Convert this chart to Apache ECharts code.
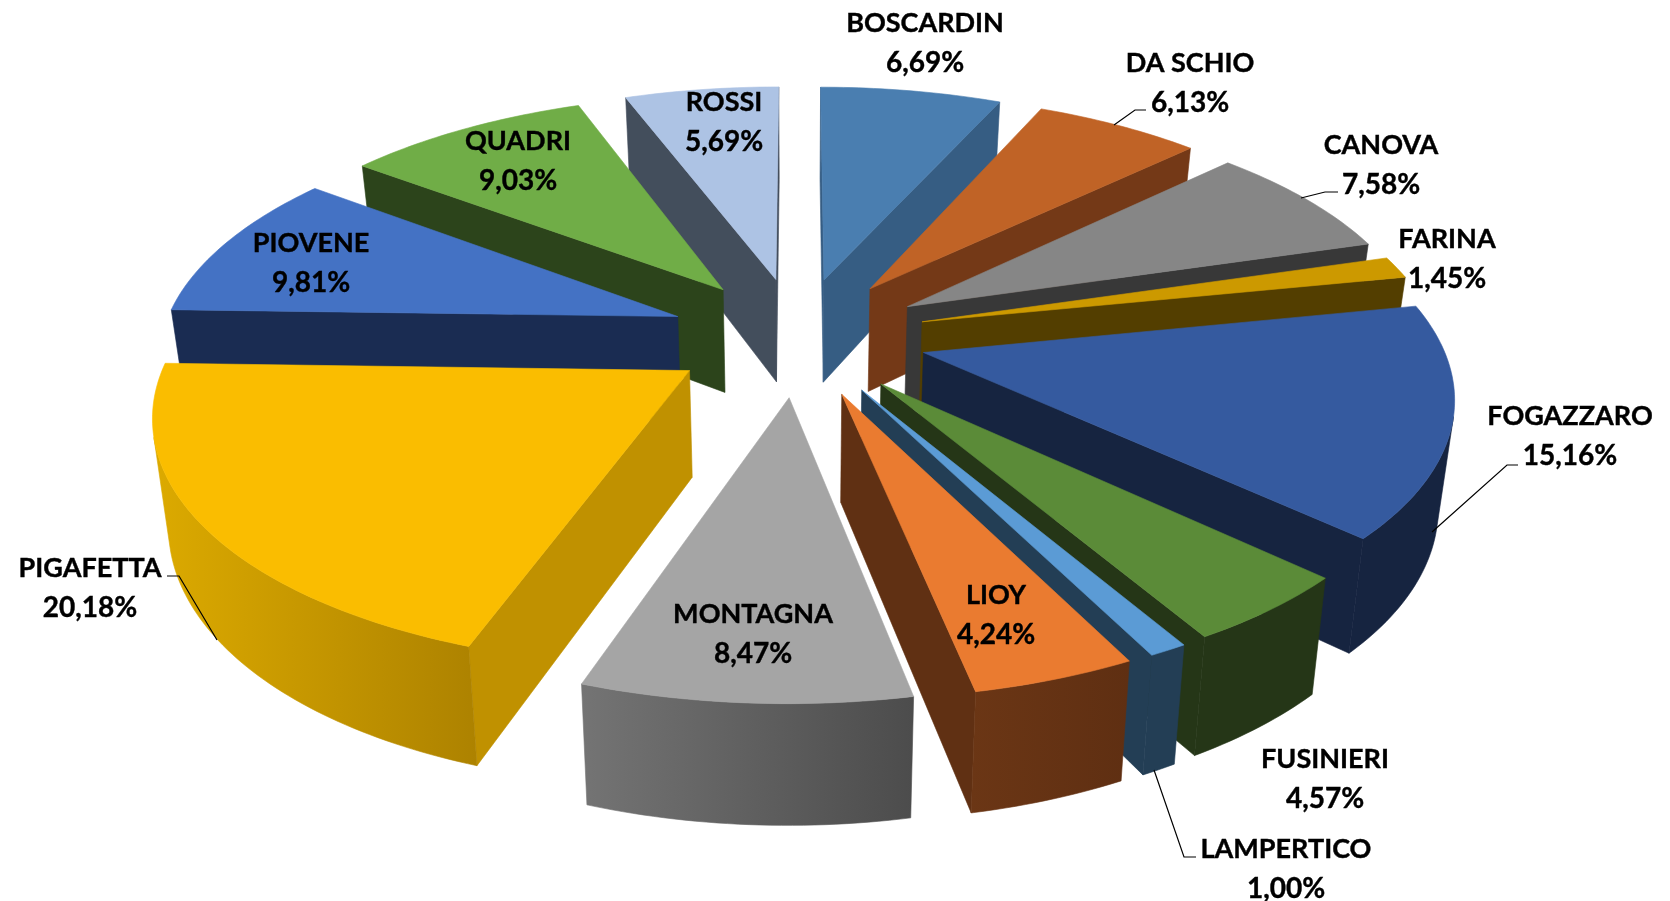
<!DOCTYPE html>
<html>
<head>
<meta charset="utf-8">
<style>
  html, body { margin: 0; padding: 0; background: #fff; }
  #box { width: 1670px; height: 901px; }
</style>
<script src="https://cdn.jsdelivr.net/npm/echarts@6/dist/echarts.min.js"></script>
</head>
<body>
<div id="box"></div>
<script>
// data, clockwise from 12 o'clock
const categories = ["BOSCARDIN", "DA SCHIO", "CANOVA", "FARINA", "FOGAZZARO", "FUSINIERI", "LAMPERTICO", "LIOY", "MONTAGNA", "PIGAFETTA", "PIOVENE", "QUADRI", "ROSSI"];
const values = [6.69, 6.13, 7.58, 1.45, 15.16, 4.57, 1.00, 4.24, 8.47, 20.18, 9.81, 9.03, 5.69];

// colours per slice
const topColors = ["#4a7eb0", "#c06326", "#868686", "#cc9900", "#355a9f", "#5b8b38", "#5b9bd5", "#ea7b30", "#a5a5a5", "#fabd00", "#4472c4", "#70ad47", "#adc3e4"];
const cutColors = ["#365d83", "#743917", "#383838", "#533e00", "#162440", "#253617", "#233e55", "#603013", "#4c4c4c", "#c09100", "#1a2c52", "#2c441b", "#434e5c"];
const wallLeft = ["#365d83", "#743917", "#383838", "#533e00", "#162440", "#253617", "#233e55", "#6b3615", "#747474", "#dcaa00", "#1a2c52", "#2c441b", "#434e5c"];
const wallRight = ["#365d83", "#743917", "#383838", "#533e00", "#162440", "#253617", "#233e55", "#5f2f12", "#4c4c4c", "#ad8200", "#1a2c52", "#2c441b", "#434e5c"];

// label centres (first line) and leader lines, page px
const labelAnchors = [[925, 23], [1190, 63], [1381, 145], [1447, 239], [1570, 416], [1325, 759], [1286, 849], [996, 595], [753, 614], [90, 568], [311, 243], [518, 141], [724, 102]];
const leaderLines = [
  [[1114, 125], [1135, 110], [1146, 110]],
  [[1301, 198], [1325, 192], [1338, 192]],
  [[1432, 532], [1507, 465], [1518, 465]],
  [[1154, 770], [1184, 857], [1196, 857]],
  [[217, 640], [179, 576], [167, 576]]
];

// projection of the tilted pie
const view = { cx: 798, cy: 336, sx: 516, sy: 238, persp: 0.153, depth: 105, depthPersp: 0.11, shrink: 0.975, explode: 0.25 };

const total = values.reduce((a, b) => a + b, 0);
let acc = 0;
const slices = values.map(v => {
  const s = { from: acc / total * 360, to: (acc + v) / total * 360 };
  acc += v;
  s.mid = (s.from + s.to) / 2;
  return s;
});
// painter's order, back slices first
const paintOrder = values.map((v, i) => i).sort((a, b) =>
  -Math.cos(slices[a].mid * Math.PI / 180) + Math.cos(slices[b].mid * Math.PI / 180));

function project(X, Z) {
  const s = 1 / (1 - view.persp * Z);
  const x = view.cx + view.sx * X * s;
  const y = view.cy + view.sy * Z * s;
  return {
    top: [x, y],
    bottom: [view.cx + (x - view.cx) * view.shrink, y + view.depth / (1 - view.depthPersp * Z)]
  };
}

function area(pts) {
  let sum = 0;
  pts.forEach((p, i) => {
    const q = pts[(i + 1) % pts.length];
    sum += p[0] * q[1] - q[0] * p[1];
  });
  return sum / 2;
}

function poly(points, fill, stroke) {
  return { type: "polygon", shape: { points }, style: { fill, stroke, lineWidth: 0.6 }, silent: true };
}

function renderSlice(params, api) {
  const i = api.value(0);
  const sl = slices[i];
  const rad = sl.mid * Math.PI / 180;
  const ox = view.explode * Math.sin(rad);
  const oz = -view.explode * Math.cos(rad);
  const apex = project(ox, oz);
  const rim = [];
  for (let a = sl.from; ; a += 1) {
    const d = Math.min(a, sl.to) * Math.PI / 180;
    rim.push(project(ox + Math.sin(d), oz - Math.cos(d)));
    if (a >= sl.to) break;
  }
  const first = rim[0];
  const last = rim[rim.length - 1];
  const children = [];

  const startWall = [apex.top, first.top, first.bottom, apex.bottom];
  const endWall = [apex.top, last.top, last.bottom, apex.bottom];
  if (area(startWall) < 0) children.push(poly(startWall, cutColors[i], cutColors[i]));
  if (area(endWall) > 0) children.push(poly(endWall, cutColors[i], cutColors[i]));

  // outer wall, only the strips facing the viewer
  let upper = [];
  let lower = [];
  for (let k = 0; k < rim.length - 1; k++) {
    const strip = [rim[k].top, rim[k + 1].top, rim[k + 1].bottom, rim[k].bottom];
    if (area(strip) < 0) {
      if (!upper.length) { upper.push(rim[k].top); lower.push(rim[k].bottom); }
      upper.push(rim[k + 1].top);
      lower.push(rim[k + 1].bottom);
    }
  }
  if (upper.length) {
    const fill = wallLeft[i] === wallRight[i] ? wallLeft[i] : new echarts.graphic.LinearGradient(0, 0, 1, 0, [
      { offset: 0, color: wallLeft[i] },
      { offset: 1, color: wallRight[i] }
    ]);
    children.push(poly(upper.concat(lower.reverse()), fill, fill));
  }

  children.push(poly([apex.top].concat(rim.map(p => p.top)), topColors[i], topColors[i]));
  return { type: "group", children };
}

function renderLabel(params, api) {
  const i = api.value(0);
  const pos = labelAnchors[i];
  const pct = values[i].toFixed(2).replace(".", ",") + "%";
  return {
    type: "group",
    children: [categories[i], pct].map((text, n) => ({
      type: "text",
      silent: true,
      style: { text, x: pos[0], y: pos[1] + n * 39.5, align: "center", verticalAlign: "middle", fill: "#000", stroke: "#000", lineWidth: 0.4, font: "700 " + (n ? 28 : 27) + "px Lato" }
    }))
  };
}

function renderLeader(params, api) {
  return {
    type: "polyline",
    silent: true,
    shape: { points: leaderLines[api.value(0)] },
    style: { stroke: "#000", lineWidth: 1.2, fill: null }
  };
}

const chart = echarts.init(document.getElementById("box"), null, { renderer: "canvas" });
chart.setOption({
  backgroundColor: "#fff",
  animation: false,
  series: [
    { type: "custom", coordinateSystem: "none", z: 1, data: paintOrder.map(i => [i, values[i]]), renderItem: renderSlice },
    { type: "custom", coordinateSystem: "none", z: 2, data: leaderLines.map((l, i) => [i]), renderItem: renderLeader },
    { type: "custom", coordinateSystem: "none", z: 3, data: categories.map((c, i) => [i]), renderItem: renderLabel }
  ]
});
</script>
</body>
</html>
